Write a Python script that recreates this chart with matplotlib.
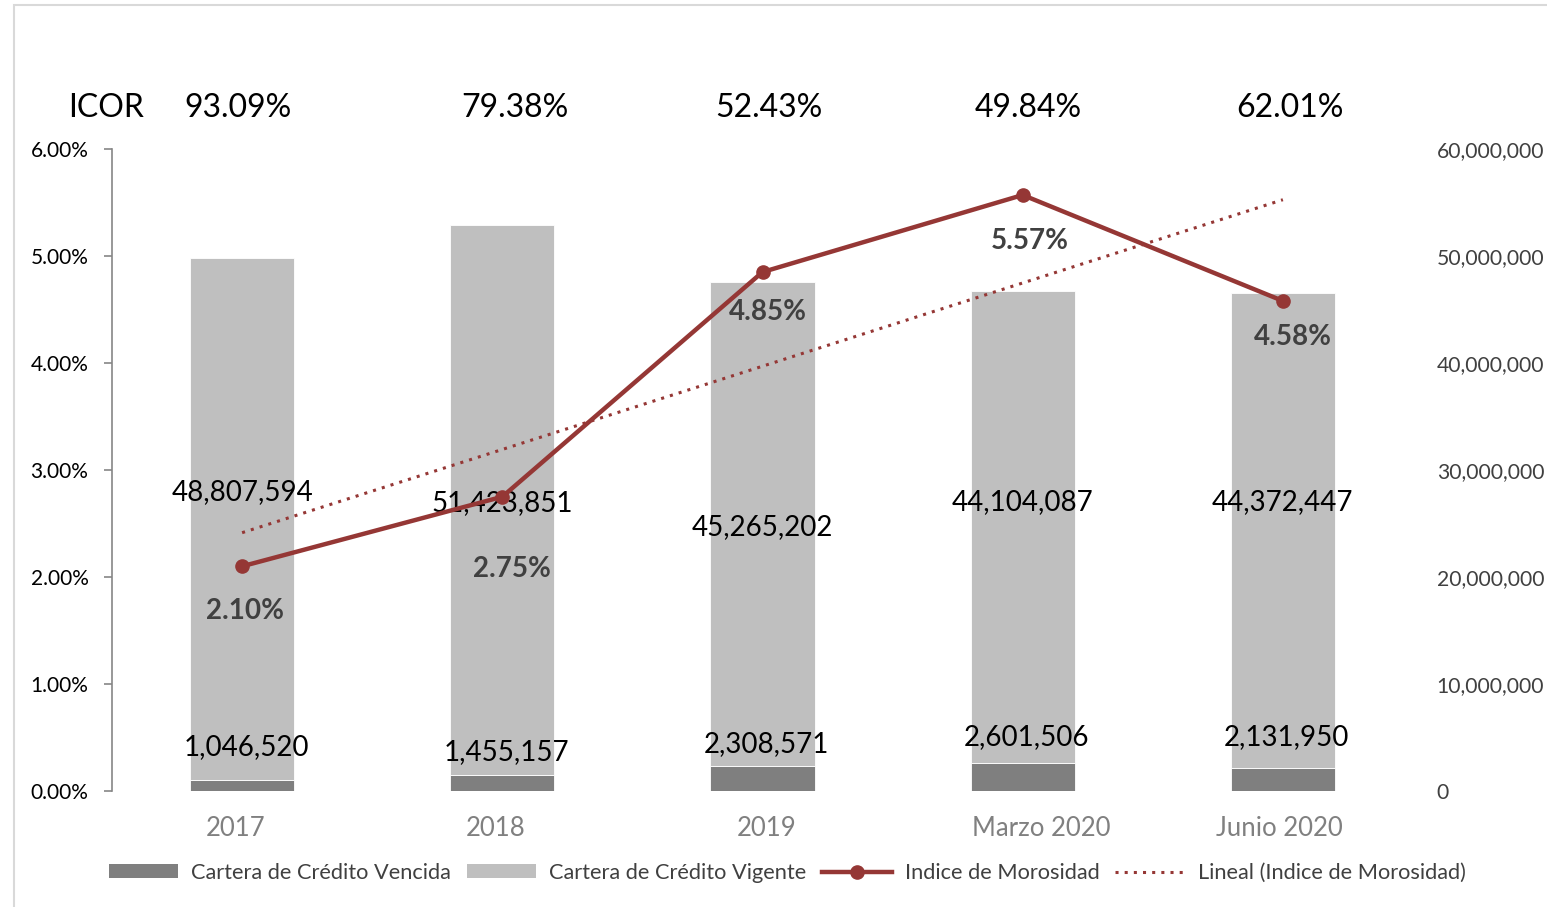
"""Cartera de credito vs Indice de Morosidad (combo chart)."""

import numpy as np
import matplotlib
matplotlib.use("Agg")
import matplotlib.pyplot as plt
from matplotlib.lines import Line2D
from matplotlib.patches import Patch, Rectangle
from matplotlib.ticker import FuncFormatter, MultipleLocator
from matplotlib.transforms import blended_transform_factory, offset_copy

plt.rcParams["font.family"] = ["Lato", "DejaVu Sans"]

categories = ["2017", "2018", "2019", "Marzo 2020", "Junio 2020"]
vencida = [1046520, 1455157, 2308571, 2601506, 2131950]
vigente = [48807594, 51423851, 45265202, 44104087, 44372447]
morosidad = [2.10, 2.75, 4.85, 5.57, 4.58]
icor = ["93.09%", "79.38%", "52.43%", "49.84%", "62.01%"]

# label placement (layout only)
vig_label_y = [27.9e6, 26.9e6, 24.7e6, 27.0e6, 27.0e6]
ven_label_y = [4.1e6, 3.63e6, 4.38e6, 5.03e6, 5.03e6]
pct_offset_px = [(3, -45), (10, -72), (5, -40), (7, -46), (10, -36)]
cat_dx_px = [-7, -7, 4, 19, -4]
icor_dx_px = [-4, 13, 6, 6, 7]

C_VEN = "#7f7f7f"
C_VIG = "#bfbfbf"
C_LINE = "#953735"
C_TXT = "#404040"

W, H = 1547, 907
fig = plt.figure(figsize=(W / 100, H / 100), dpi=100)
# outer frame of the chart object
fig.add_artist(Rectangle((14 / W, -0.1), 2, 1 - 5 / H + 0.1, transform=fig.transFigure,
                         fill=False, edgecolor="#d9d9d9", linewidth=1.5))

left, right, bottom, top = 112 / W, 1413 / W, (H - 791) / H, (H - 149) / H
ax2 = fig.add_axes([left, bottom, right - left, top - bottom])
ax = ax2.twinx()

x = np.arange(len(categories))
ax2.bar(x, vencida, width=0.4, color=C_VEN, edgecolor="white", linewidth=0.6)
ax2.bar(x, vigente, width=0.4, bottom=vencida, color=C_VIG, edgecolor="white", linewidth=0.6)
ax2.set_xlim(-0.5, len(categories) - 0.5)
ax2.set_ylim(0, 60e6)
ax2.yaxis.set_major_locator(MultipleLocator(10e6))
ax2.yaxis.set_major_formatter(FuncFormatter(lambda v, p: f"{v:,.0f}"))
ax2.yaxis.tick_right()
ax2.tick_params(axis="y", length=0, pad=17, labelsize=15.2, labelcolor=C_TXT)
for lbl in ax2.get_yticklabels():
    lbl.set_horizontalalignment("left")
ax2.set_xticks([])
for s in ax2.spines.values():
    s.set_visible(False)

# category labels, nudged like the original
tr_cat = blended_transform_factory(ax2.transData, ax2.transAxes)
for i, c in enumerate(categories):
    t = offset_copy(tr_cat, fig=fig, x=cat_dx_px[i] * 0.72, y=0, units="points")
    ax2.text(x[i], -37 / 642, c, transform=t, ha="center", va="center", fontsize=18.5, color="#808080")

for i in range(len(categories)):
    ax2.text(x[i], vig_label_y[i], f"{vigente[i]:,}", ha="center", va="center", fontsize=20, color="black")
    ax2.text(x[i] + 0.015, ven_label_y[i], f"{vencida[i]:,}", ha="center", va="center", fontsize=20, color="black")

# primary axis (percent) drawn on top, on the left
ax.yaxis.tick_left()
ax.set_ylim(0, 6)
ax.yaxis.set_major_locator(MultipleLocator(1))
ax.yaxis.set_major_formatter(FuncFormatter(lambda v, p: f"{v:.2f}%"))
ax.tick_params(axis="y", length=6, width=1.2, color="#868686", pad=11, labelsize=15, labelcolor="black")
for s in ["top", "right", "bottom"]:
    ax.spines[s].set_visible(False)
ax.spines["left"].set_color("#868686")
ax.spines["left"].set_linewidth(1.2)
ax.spines["left"].set_visible(True)

coef = np.polyfit(x, morosidad, 1)
ax.plot(x, np.polyval(coef, x), color=C_LINE, linestyle=(0, (1, 2)), linewidth=2.2)
ax.plot(x, morosidad, color=C_LINE, linewidth=3.2, marker="o", markersize=9.5)

for i, v in enumerate(morosidad):
    dx, dy = pct_offset_px[i]
    ax.annotate(f"{v:.2f}%", (x[i], v), xytext=(dx * 0.72, dy * 0.72), textcoords="offset points",
                ha="center", va="center", fontsize=20, fontweight="bold", color=C_TXT)

# ICOR row above the plot
tr = blended_transform_factory(ax.transData, ax.transAxes)
icor_y = (791 - 108) / 642
for i, s in enumerate(icor):
    t = offset_copy(tr, fig=fig, x=icor_dx_px[i] * 0.72, y=0, units="points")
    ax.text(x[i], icor_y, s, transform=t, ha="center", va="center", fontsize=23, color="black")
ax.text(106 / W, (H - 108) / H, "ICOR", transform=fig.transFigure, ha="center", va="center",
        fontsize=23, color="black")

handles = [
    Patch(facecolor=C_VEN, edgecolor="none"),
    Patch(facecolor=C_VIG, edgecolor="none"),
    Line2D([0], [0], color=C_LINE, linewidth=3.2, marker="o", markersize=9.5),
    Line2D([0], [0], color=C_LINE, linestyle=(0, (1, 2)), linewidth=2.2),
]
labels = ["Cartera de Crédito Vencida", "Cartera de Crédito Vigente", "Indice de Morosidad",
          "Lineal (Indice de Morosidad)"]
fig.legend(handles, labels, loc="center", bbox_to_anchor=(787 / W, (H - 873) / H), ncol=4,
           frameon=False, fontsize=15.7, labelcolor=C_TXT, handlelength=3.2, handleheight=0.6,
           handletextpad=0.6, columnspacing=0.7)

fig.savefig("out.png", dpi=100)
